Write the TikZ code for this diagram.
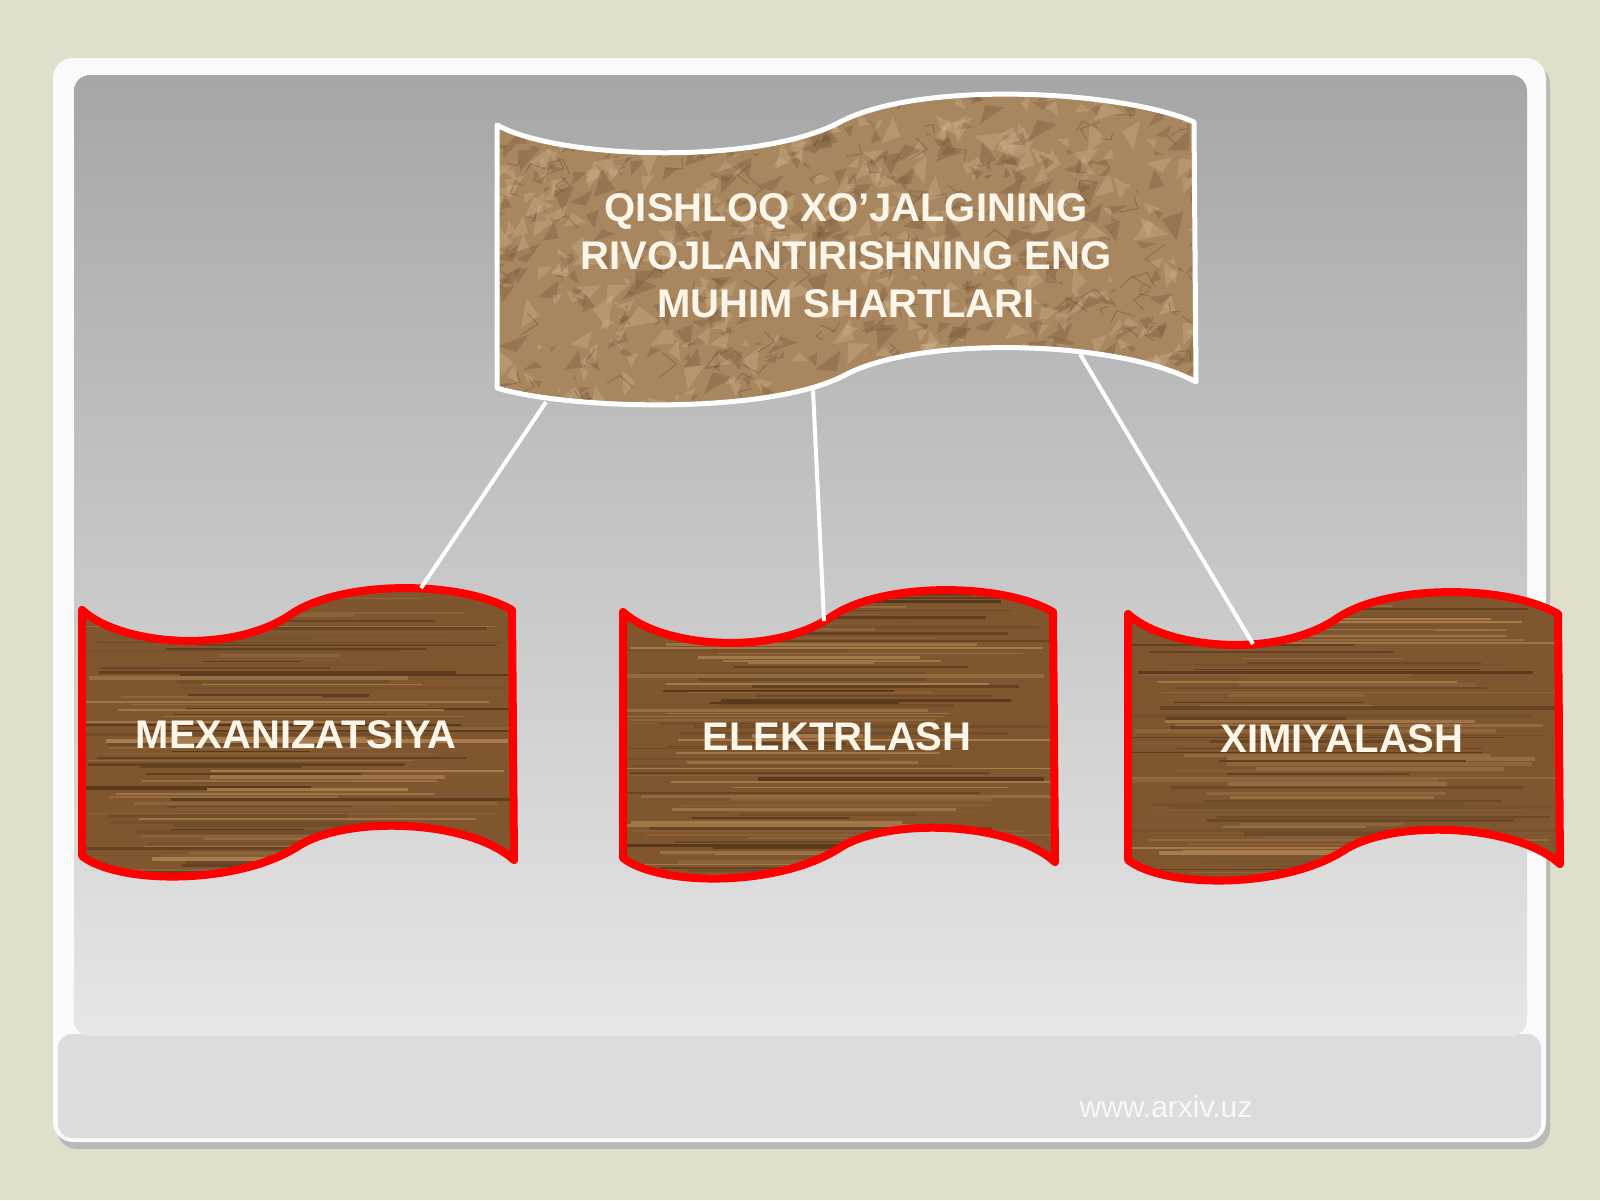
\documentclass[tikz,border=0pt]{standalone}
\usepackage{fontspec}
\setmainfont{Liberation Sans}
\usepackage{xcolor}
\usetikzlibrary{calc}
\definecolor{slidebg}{HTML}{E0DFCC}
\definecolor{panelhi}{HTML}{A6A6A7}
\definecolor{panelmid}{HTML}{C9C9CA}
\definecolor{panello}{HTML}{E6E6E7}
\definecolor{stripgray}{HTML}{DCDCDF}
\definecolor{woodbrown}{HTML}{80562F}
\definecolor{wooddark}{HTML}{4E3016}
\definecolor{woodlight}{HTML}{B38755}
\definecolor{paper}{HTML}{A8865F}
\definecolor{paperdark}{HTML}{6E5236}
\definecolor{paperlight}{HTML}{D2B58E}
\definecolor{rimred}{HTML}{FF0000}
\definecolor{cream}{HTML}{FFF6EA}

% wave outline of one wooden box (left box, unshifted)
\def\boxshape{(82,610) .. controls (120,645) and (230,655) .. (290,615)
  .. controls (340,580) and (460,580) .. (512,610) -- (514,860)
  .. controls (470,820) and (350,815) .. (300,845)
  .. controls (240,885) and (120,885) .. (82,856) -- cycle}

% wave outline of the paper banner
\def\bannershape{(497,125) .. controls (560,160) and (760,165) .. (840,122)
  .. controls (920,80) and (1120,90) .. (1194,122) -- (1196,382)
  .. controls (1120,340) and (920,335) .. (845,375)
  .. controls (770,415) and (570,410) .. (497,388) -- cycle}

% #1 shift, #2 name, #3 label, #4 top point of the rim
\newcommand{\woodbox}[4]{%
  \begin{scope}[shift={#1}]
    \begin{scope}
      \clip \boxshape;
      \fill[woodbrown] (70,570) rectangle (530,900);
      % grain
      \foreach \k in {0,...,95} {
        \pgfmathsetmacro{\yy}{578+\k*3.3+rnd*2}
        \pgfmathsetmacro{\mix}{int(rnd*100)}
        \pgfmathsetmacro{\lw}{0.8+rnd*3}
        \pgfmathsetmacro{\xa}{70+rnd*150}
        \pgfmathsetmacro{\xb}{300+rnd*230}
        \draw[wooddark!\mix!woodlight, line width=\lw pt, opacity=0.8] (\xa,\yy) -- (\xb,\yy);
      }
    \end{scope}
    \draw[rimred, line width=8pt, line join=round] \boxshape;
    \node[boxtext] (#2) at (296,735) {#3};
    \coordinate (#2-top) at #4;
  \end{scope}}

\begin{document}
\begin{tikzpicture}[x=1pt,y=-1pt,
  boxtext/.style={text=cream, font=\fontsize{40}{48}\selectfont\bfseries},
  titletext/.style={text=cream, align=center, font=\fontsize{40}{48}\selectfont\bfseries},
  link/.style={white, line width=4pt}]
  \useasboundingbox (0,0) rectangle (1600,1200);
  \pgfmathsetseed{11}
  % Slide background and frame
  \fill[slidebg] (0,0) rectangle (1600,1200);
  \fill[gray!55, rounded corners=20] (57,64) rectangle (1550,1149);
  \fill[white!96!gray, rounded corners=20] (53,58) rectangle (1546,1142);
  \fill[stripgray, rounded corners=14] (58,1034) rectangle (1541,1138);
  \shade[rounded corners=16, top color=panelhi, middle color=panelmid,
    bottom color=panello] (74,75) rectangle (1527,1036);
  % Banner
  \begin{scope}
    \clip \bannershape;
    \fill[paper] (490,80) rectangle (1200,420);
    % crumpled facets
    \foreach \k in {1,...,420} {
      \pgfmathsetmacro{\px}{480+rnd*730}
      \pgfmathsetmacro{\py}{75+rnd*350}
      \pgfmathsetmacro{\dx}{rnd*44-22}
      \pgfmathsetmacro{\dy}{rnd*30-15}
      \fill[paperlight, opacity=0.35] (\px,\py) -- ++(\dx,\dy) -- ++(\dy,-\dx) -- cycle;
      \fill[paperdark, opacity=0.3] (\px+8,\py+6) -- ++(\dy,\dx) -- ++(-\dx,0.5*\dy) -- cycle;
    }
    \foreach \k in {1,...,140} {
      \pgfmathsetmacro{\px}{490+rnd*710}
      \pgfmathsetmacro{\py}{85+rnd*330}
      \pgfmathsetmacro{\dx}{rnd*40-20}
      \pgfmathsetmacro{\dy}{rnd*30-15}
      \draw[paperdark, opacity=0.45, line width=1pt] (\px,\py) -- ++(\dx,\dy) -- ++(\dy,-0.6*\dx);
    }
  \end{scope}
  \draw[white, line width=5pt, line join=round] \bannershape;
  \node[titletext] (title) at (846,256)
    {QISHLOQ XO'JALGINING\\RIVOJLANTIRISHNING ENG\\MUHIM SHARTLARI};
  \coordinate (title-l) at (546,402);
  \coordinate (title-m) at (813,390);
  \coordinate (title-r) at (1080,354);
  % Wooden boxes
  \woodbox{(0,0)}{mex}{MEXANIZATSIYA}{(421,588)}
  \woodbox{(541,2)}{elek}{ELEKTRLASH}{(283,619)}
  \woodbox{(1046,4)}{xim}{XIMIYALASH}{(207,640)}
  % Links
  \draw[link] (title-l) -- (mex-top);
  \draw[link] (title-m) -- (elek-top);
  \draw[link] (title-r) -- (xim-top);
  % Footer
  \node[text=white, opacity=0.8, font=\fontsize{30}{36}\selectfont] (site) at (1166,1107) {www.arxiv.uz};
\end{tikzpicture}
\end{document}
